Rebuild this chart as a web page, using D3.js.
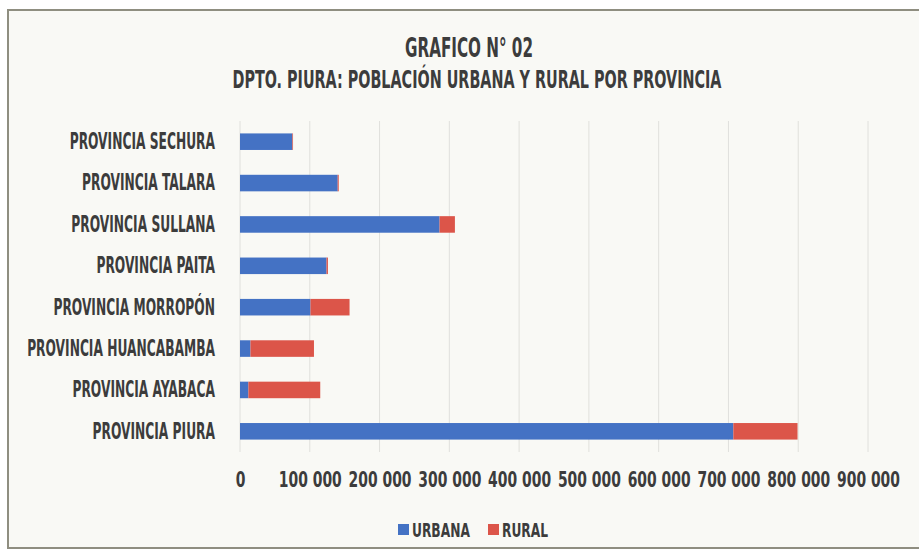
<!DOCTYPE html>
<html>
<head>
<meta charset="utf-8">
<script src="https://cdn.jsdelivr.net/npm/d3@7"></script>
<style>
  body { margin: 0; background: #fff; }
  text { font-family: "DejaVu Sans Condensed", "DejaVu Sans", sans-serif; font-weight: bold; fill: #3c3c3c; }
</style>
</head>
<body>
<svg id="chart" width="919" height="558"></svg>
<script>
// data
const provinces = ['PROVINCIA SECHURA', 'PROVINCIA TALARA', 'PROVINCIA SULLANA', 'PROVINCIA PAITA',
  'PROVINCIA MORROPÓN', 'PROVINCIA HUANCABAMBA', 'PROVINCIA AYABACA', 'PROVINCIA PIURA'];
const urbana = [75000, 140000, 286000, 124000, 101000, 15000, 12000, 707000];
const rural = [1000, 1500, 22000, 2000, 56000, 91000, 103000, 92000];
const xTicks = [0, 100000, 200000, 300000, 400000, 500000, 600000, 700000, 800000, 900000];
const seriesNames = ['URBANA', 'RURAL'];
const colors = ['#4472c4', '#dc5549'];

const svg = d3.select('#chart');

// squeeze a text selection horizontally so a reference string gets the wanted width
function condense(sel, refText, target) {
  let k = 1;
  sel.each(function() {
    if (d3.select(this).text() === refText) k = target / this.getComputedTextLength();
  });
  sel.each(function() {
    const t = d3.select(this);
    const x0 = +(t.attr('x') || 0);
    t.attr('x', x0 / k).attr('transform', 'scale(' + k + ',1)');
  });
}

// frame
svg.append('rect')
  .attr('x', 8).attr('y', 10)
  .attr('width', 930).attr('height', 538)
  .attr('fill', '#f9f9f5')
  .attr('stroke', '#8f8e80')
  .attr('stroke-width', 2);

const margin = { left: 240, right: 51, top: 121, bottom: 106 };
const innerW = 919 - margin.left - margin.right;
const innerH = 558 - margin.top - margin.bottom;

const g = svg.append('g').attr('transform', 'translate(' + margin.left + ',' + margin.top + ')');

const x = d3.scaleLinear().domain([0, 900000]).range([0, innerW]);
const y = d3.scaleBand().domain(provinces).range([0, innerH]).paddingInner(0.6).paddingOuter(0.3);

// gridlines
g.append('g')
  .selectAll('line')
  .data(xTicks)
  .enter()
  .append('line')
  .attr('x1', d => x(d)).attr('x2', d => x(d))
  .attr('y1', 0).attr('y2', innerH)
  .attr('stroke', '#e0e0dc')
  .attr('stroke-width', 1);

// x axis labels
const fmt = d => d3.format(',')(d).replace(/,/g, ' ');
const xAxis = d3.axisBottom(x).tickValues(xTicks).tickFormat(fmt).tickSize(0).tickPadding(19);
const xt = g.append('g')
  .attr('class', 'axis axis-x')
  .attr('transform', 'translate(0,' + innerH + ')')
  .call(xAxis)
  .call(a => a.select('.domain').remove())
  .selectAll('text')
  .attr('font-size', 22)
  .attr('font-family', null)
  .attr('fill', '#363636');
condense(xt, '900 000', 63);

// y axis labels
const yAxis = d3.axisLeft(y).tickSize(0).tickPadding(25);
const yt = g.append('g')
  .attr('class', 'axis axis-y')
  .call(yAxis)
  .call(a => a.select('.domain').remove())
  .selectAll('text')
  .attr('font-size', 23)
  .attr('font-family', null)
  .attr('fill', '#363636');
condense(yt, 'PROVINCIA HUANCABAMBA', 188);

// stacked bars
const rows = provinces.map((p, i) => ({ prov: p, URBANA: urbana[i], RURAL: rural[i] }));
const stack = d3.stack().keys(seriesNames)(rows);

g.append('g')
  .selectAll('g')
  .data(stack)
  .enter()
  .append('g')
  .attr('fill', (d, i) => colors[i])
  .selectAll('rect')
  .data(d => d)
  .enter()
  .append('rect')
  .attr('class', 'bar-line')
  .attr('x', d => x(d[0]))
  .attr('y', d => y(d.data.prov))
  .attr('width', d => x(d[1]) - x(d[0]))
  .attr('height', y.bandwidth());

// title
const t1 = svg.append('text')
  .attr('x', 469).attr('y', 57)
  .attr('text-anchor', 'middle')
  .attr('font-size', 26)
  .text('GRAFICO N° 02');
condense(t1, 'GRAFICO N° 02', 128);
const t2 = svg.append('text')
  .attr('x', 477).attr('y', 88)
  .attr('text-anchor', 'middle')
  .attr('font-size', 25)
  .text('DPTO. PIURA: POBLACIÓN URBANA Y RURAL POR PROVINCIA');
condense(t2, 'DPTO. PIURA: POBLACIÓN URBANA Y RURAL POR PROVINCIA', 489);

// legend
const legend = svg.append('g').attr('transform', 'translate(398,537)');
const items = legend.selectAll('g')
  .data(seriesNames)
  .enter()
  .append('g')
  .attr('transform', (d, i) => 'translate(' + (i * 90) + ',0)');
items.append('rect')
  .attr('x', 0).attr('y', -13)
  .attr('width', 11).attr('height', 11)
  .attr('fill', (d, i) => colors[i]);
const lt = items.append('text')
  .attr('x', 14).attr('y', 0)
  .attr('font-size', 19)
  .text(d => d);
condense(lt, 'URBANA', 58);
</script>
</body>
</html>
